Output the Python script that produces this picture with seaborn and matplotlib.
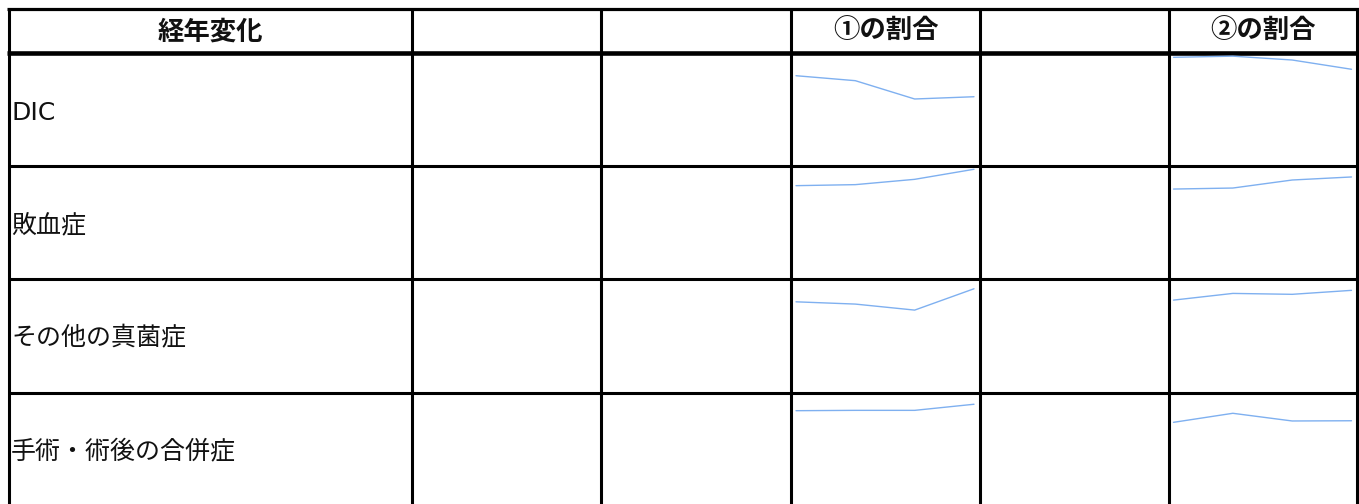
import matplotlib
matplotlib.use("Agg")
import matplotlib.pyplot as plt
import seaborn as sns
import pandas as pd

# table text
headers = ["経年変化", "", "", "①の割合", "", "②の割合"]
diseases = ["DIC", "敗血症", "その他の真菌症", "手術・術後の合併症"]

# sparkline values (4 time points each)
periods = [0, 1, 2, 3]
ratio1 = {
    "DIC": [79.9, 75.5, 59.3, 61.3],
    "敗血症": [82.6, 83.5, 88.2, 97.1],
    "その他の真菌症": [79.9, 77.9, 72.6, 91.4],
    "手術・術後の合併症": [83.9, 84.2, 84.2, 89.6],
}
ratio2 = {
    "DIC": [96.2, 97.2, 93.8, 85.6],
    "敗血症": [79.6, 80.5, 87.6, 90.3],
    "その他の真菌症": [81.4, 87.3, 86.5, 90.0],
    "手術・術後の合併症": [73.6, 81.6, 74.8, 75.0],
}

W, H = 1359, 504
col_x = [8.5, 411.5, 601, 791, 980, 1168.5, 1357]
row_y = [8.5, 53, 166, 279, 392.5, 505.5]
spark_color = "#7fb0f0"

sns.set_theme(style="white")
plt.rcParams["font.family"] = ["Noto Sans CJK JP", "DejaVu Sans"]

fig = plt.figure(figsize=(W / 100, H / 100), dpi=100)
fig.patch.set_facecolor("white")

# background axes in pixel coordinates for the grid and texts
bg = fig.add_axes([0, 0, 1, 1])
bg.set_xlim(0, W)
bg.set_ylim(H, 0)
bg.axis("off")

# grid lines
bg.hlines(row_y[0], col_x[0] - 1.5, col_x[-1] + 1.5, color="black", lw=2.3)
bg.hlines(row_y[1], col_x[0] - 1.5, col_x[-1] + 1.5, color="black", lw=3.3)
for y in row_y[2:5]:
    bg.hlines(y, col_x[0], col_x[-1], color="black", lw=2.2)
for x in col_x:
    bg.vlines(x, row_y[0], H, color="black", lw=2.2)

# header texts
for i, h in enumerate(headers):
    if h:
        bg.text((col_x[i] + col_x[i + 1]) / 2, (row_y[0] + row_y[1]) / 2 + 1, h,
                ha="center", va="center", fontsize=19, fontweight="bold", color="#111111")

# row labels (latin text in a wider face, like the original)
for r, name in enumerate(diseases):
    fam = ["DejaVu Sans"] if name.isascii() else ["Noto Sans CJK JP", "DejaVu Sans"]
    bg.text(11, (row_y[r + 1] + row_y[r + 2]) / 2 + 3, name,
            ha="left", va="center", fontsize=18, color="#111111", family=fam)

# sparklines
def spark(col, r, vals):
    left = col_x[col] + 5
    width = 178
    top = row_y[r + 1]
    height = row_y[r + 2] - row_y[r + 1]
    ax = fig.add_axes([left / W, 1 - (top + height) / H, width / W, height / H])
    df = pd.DataFrame({"period": periods, "value": vals})
    sns.lineplot(data=df, x="period", y="value", ax=ax, color=spark_color, lw=1.0)
    ax.set_xlim(0, 3)
    ax.set_ylim(0, 100)
    ax.axis("off")
    for l in ax.lines:
        l.set_clip_on(False)

for r, name in enumerate(diseases):
    spark(3, r, ratio1[name])
    spark(5, r, ratio2[name])

fig.savefig("out.png", dpi=100, facecolor="white")
